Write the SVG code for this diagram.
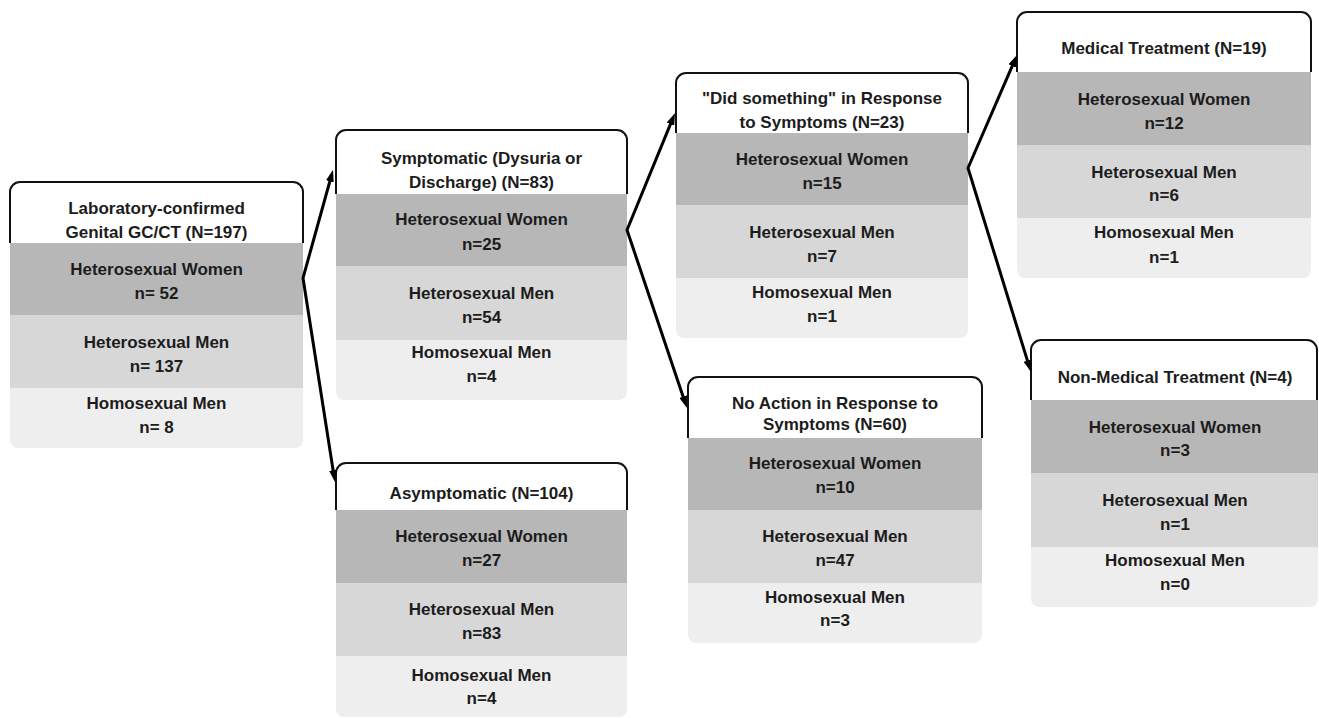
<svg xmlns="http://www.w3.org/2000/svg" width="1319" height="718" viewBox="0 0 1319 718">
<style>
.hd{fill:#fff;stroke:#111;stroke-width:2}
.d{fill:#b7b7b7}
.m{fill:#d7d7d7}
.l{fill:#eeeeee}
text{font-family:"Liberation Sans",Arial,sans-serif;font-weight:bold;font-size:17px;fill:#1c1c1c;text-anchor:middle}
.cn{fill:none;stroke:#000;stroke-width:3;stroke-linejoin:miter}
</style>
<defs>
<marker id="ah" viewBox="0 0 12 8" markerWidth="12" markerHeight="8" refX="4" refY="4" orient="auto-start-reverse" markerUnits="userSpaceOnUse">
<path d="M0,0 L12,4 L0,8 Z" fill="#000"/>
</marker>
</defs>
<rect width="1319" height="718" fill="#fff"/>

<g id="node1">
<rect class="d" x="10" y="243" width="293" height="72"/>
<rect class="m" x="10" y="315" width="293" height="73"/>
<path class="l" d="M10,388 L303,388 L303,440 A8,8 0 0 1 295,448 L18,448 A8,8 0 0 1 10,440 Z"/>
<path class="hd" d="M10,243 L10,192 A10,10 0 0 1 20,182 L293,182 A10,10 0 0 1 303,192 L303,243"/>
<text x="156.5" y="214">Laboratory-confirmed</text>
<text x="156.5" y="238">Genital GC/CT (N=197)</text>
<text x="156.5" y="275">Heterosexual Women</text>
<text x="156.5" y="299">n= 52</text>
<text x="156.5" y="348">Heterosexual Men</text>
<text x="156.5" y="372">n= 137</text>
<text x="156.5" y="409">Homosexual Men</text>
<text x="156.5" y="433">n= 8</text>
</g>

<g id="node2">
<rect class="d" x="336" y="194" width="291" height="72"/>
<rect class="m" x="336" y="266" width="291" height="74"/>
<path class="l" d="M336,340 L627,340 L627,392 A8,8 0 0 1 619,400 L344,400 A8,8 0 0 1 336,392 Z"/>
<path class="hd" d="M336,194 L336,140 A10,10 0 0 1 346,130 L617,130 A10,10 0 0 1 627,140 L627,194"/>
<text x="481.5" y="164">Symptomatic (Dysuria or</text>
<text x="481.5" y="188">Discharge) (N=83)</text>
<text x="481.5" y="225">Heterosexual Women</text>
<text x="481.5" y="250">n=25</text>
<text x="481.5" y="299">Heterosexual Men</text>
<text x="481.5" y="323">n=54</text>
<text x="481.5" y="358">Homosexual Men</text>
<text x="481.5" y="382">n=4</text>
</g>

<g id="node3">
<rect class="d" x="336" y="510" width="291" height="73"/>
<rect class="m" x="336" y="583" width="291" height="73"/>
<path class="l" d="M336,656 L627,656 L627,709 A8,8 0 0 1 619,717 L344,717 A8,8 0 0 1 336,709 Z"/>
<path class="hd" d="M336,510 L336,473 A10,10 0 0 1 346,463 L617,463 A10,10 0 0 1 627,473 L627,510"/>
<text x="481.5" y="499">Asymptomatic (N=104)</text>
<text x="481.5" y="542">Heterosexual Women</text>
<text x="481.5" y="566">n=27</text>
<text x="481.5" y="615">Heterosexual Men</text>
<text x="481.5" y="639">n=83</text>
<text x="481.5" y="681">Homosexual Men</text>
<text x="481.5" y="704">n=4</text>
</g>

<g id="node4">
<rect class="d" x="676" y="133" width="292" height="72"/>
<rect class="m" x="676" y="205" width="292" height="73"/>
<path class="l" d="M676,278 L968,278 L968,330 A8,8 0 0 1 960,338 L684,338 A8,8 0 0 1 676,330 Z"/>
<path class="hd" d="M676,133 L676,83 A10,10 0 0 1 686,73 L958,73 A10,10 0 0 1 968,83 L968,133"/>
<text x="822" y="104">"Did something" in Response</text>
<text x="822" y="128">to Symptoms (N=23)</text>
<text x="822" y="165">Heterosexual Women</text>
<text x="822" y="189">n=15</text>
<text x="822" y="238">Heterosexual Men</text>
<text x="822" y="262">n=7</text>
<text x="822" y="298">Homosexual Men</text>
<text x="822" y="322">n=1</text>
</g>

<g id="node5">
<rect class="d" x="688" y="438" width="294" height="72"/>
<rect class="m" x="688" y="510" width="294" height="73"/>
<path class="l" d="M688,583 L982,583 L982,635 A8,8 0 0 1 974,643 L696,643 A8,8 0 0 1 688,635 Z"/>
<path class="hd" d="M688,438 L688,387 A10,10 0 0 1 698,377 L972,377 A10,10 0 0 1 982,387 L982,438"/>
<text x="835" y="409">No Action in Response to</text>
<text x="835" y="430">Symptoms (N=60)</text>
<text x="835" y="469">Heterosexual Women</text>
<text x="835" y="493">n=10</text>
<text x="835" y="542">Heterosexual Men</text>
<text x="835" y="566">n=47</text>
<text x="835" y="603">Homosexual Men</text>
<text x="835" y="626">n=3</text>
</g>

<g id="node6">
<rect class="d" x="1017" y="72" width="294" height="73"/>
<rect class="m" x="1017" y="145" width="294" height="73"/>
<path class="l" d="M1017,218 L1311,218 L1311,270 A8,8 0 0 1 1303,278 L1025,278 A8,8 0 0 1 1017,270 Z"/>
<path class="hd" d="M1017,72 L1017,22 A10,10 0 0 1 1027,12 L1301,12 A10,10 0 0 1 1311,22 L1311,72"/>
<text x="1164" y="54">Medical Treatment (N=19)</text>
<text x="1164" y="105">Heterosexual Women</text>
<text x="1164" y="129">n=12</text>
<text x="1164" y="178">Heterosexual Men</text>
<text x="1164" y="201">n=6</text>
<text x="1164" y="238">Homosexual Men</text>
<text x="1164" y="263">n=1</text>
</g>

<g id="node7">
<rect class="d" x="1031" y="400" width="287" height="73"/>
<rect class="m" x="1031" y="473" width="287" height="74"/>
<path class="l" d="M1031,547 L1318,547 L1318,599 A8,8 0 0 1 1310,607 L1039,607 A8,8 0 0 1 1031,599 Z"/>
<path class="hd" d="M1031,400 L1031,350 A10,10 0 0 1 1041,340 L1307,340 A10,10 0 0 1 1317,350 L1317,400"/>
<text x="1175" y="383">Non-Medical Treatment (N=4)</text>
<text x="1175" y="433">Heterosexual Women</text>
<text x="1175" y="456">n=3</text>
<text x="1175" y="506">Heterosexual Men</text>
<text x="1175" y="530">n=1</text>
<text x="1175" y="566">Homosexual Men</text>
<text x="1175" y="590">n=0</text>
</g>

<g id="connectors">
<path class="cn" d="M330.9,177.5 L303,278 L333.7,474.1" marker-start="url(#ah)" marker-end="url(#ah)"/>
<path class="cn" d="M672,120.4 L627,230 L684.4,400.4" marker-start="url(#ah)" marker-end="url(#ah)"/>
<path class="cn" d="M1013.8,62.3 L968,168 L1028.6,364.4" marker-start="url(#ah)" marker-end="url(#ah)"/>
</g>
</svg>
